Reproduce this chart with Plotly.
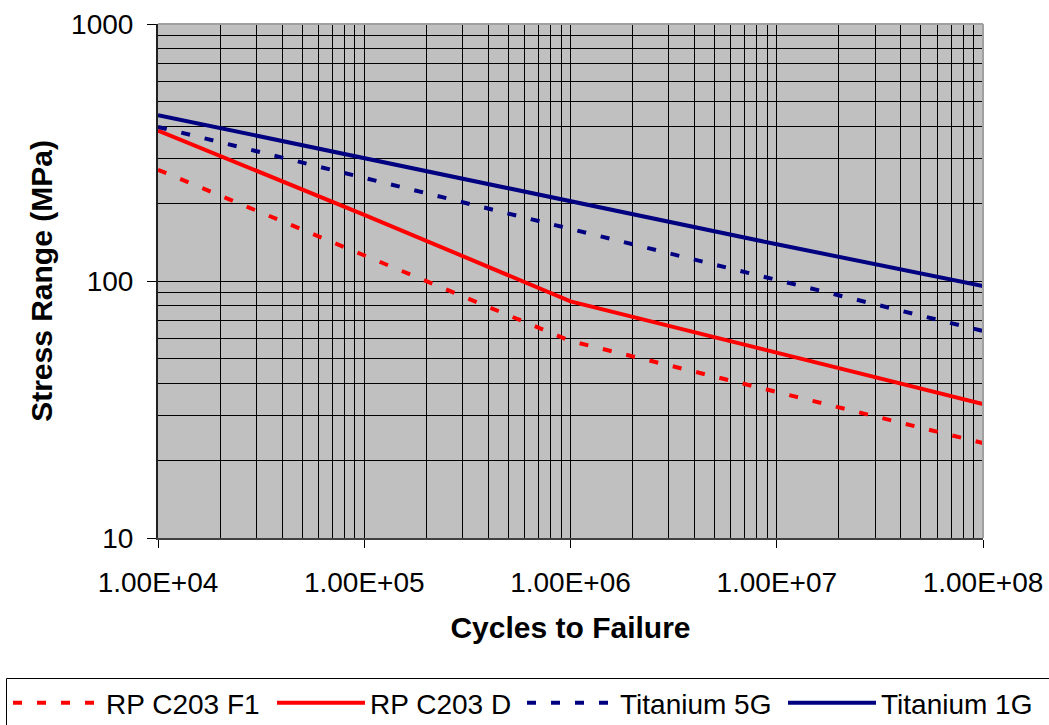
import plotly.graph_objects as go

# S-N design curves: stress range (MPa) against cycles to failure
cycles = [1e4, 1e5, 1e6, 1e7, 1e8]
rp_c203_f1 = [271, 126, 58.4, 37.0, 23.4]
rp_c203_d = [385, 181, 83.3, 52.6, 33.2]
titanium_5g = [398, 252, 160, 101, 63.9]
titanium_1g = [442, 300, 204, 139, 95.6]

x_tick_vals = [1e4, 1e5, 1e6, 1e7, 1e8]
x_tick_text = ["1.00E+04", "1.00E+05", "1.00E+06", "1.00E+07", "1.00E+08"]
y_tick_vals = [10, 100, 1000]
y_tick_text = ["10", "100", "1000"]

RED = "#FF0000"
NAVY = "#000080"
DOTTED = "9px,15px"
FONT = "Liberation Sans, Arial, sans-serif"

W, H = 1049, 725
M_L, M_R, M_T, M_B = 158, 66, 24, 187
plot_w = W - M_L - M_R
plot_h = H - M_T - M_B


def px_x(px):
    return (px - M_L) / plot_w


def px_y(py):
    return (H - M_B - py) / plot_h


# one legend per series so the key row spans the full width
series = [
    ("RP C203 F1", rp_c203_f1, RED, DOTTED, "legend", 8),
    ("RP C203 D", rp_c203_d, RED, "solid", "legend2", 272),
    ("Titanium 5G", titanium_5g, NAVY, DOTTED, "legend3", 522),
    ("Titanium 1G", titanium_1g, NAVY, "solid", "legend4", 783),
]

fig = go.Figure()
legend_layout = {}
for name, vals, color, dash, leg, left_px in series:
    fig.add_trace(go.Scatter(
        x=cycles, y=vals, name=name, mode="lines", legend=leg,
        line=dict(color=color, width=4, dash=dash),
    ))
    legend_layout[leg] = dict(
        orientation="h", xref="paper", yref="paper",
        x=px_x(left_px), y=px_y(703),
        xanchor="left", yanchor="middle",
        font=dict(size=28, color="black", family=FONT),
        borderwidth=0, bgcolor="rgba(0,0,0,0)",
        itemwidth=88,
    )

grid = dict(showgrid=True, gridcolor="black", gridwidth=1)

fig.update_xaxes(
    type="log", range=[4, 8],
    tickvals=x_tick_vals, ticktext=x_tick_text,
    ticks="outside", ticklen=8, tickcolor="black", tickwidth=1,
    ticklabelstandoff=10,
    tickfont=dict(size=28, color="black", family=FONT),
    showline=True, linecolor="#404040", linewidth=2,
    minor=dict(dtick="D1", showgrid=True, gridcolor="black", gridwidth=1, ticks=""),
    title=dict(text="<b>Cycles to Failure</b>", standoff=20,
               font=dict(size=30, color="black", family=FONT)),
    zeroline=False, **grid,
)
fig.update_yaxes(
    type="log", range=[1, 3],
    tickvals=y_tick_vals, ticktext=y_tick_text,
    ticks="outside", ticklen=9, tickcolor="black", tickwidth=1,
    ticklabelstandoff=8,
    tickfont=dict(size=28, color="black", family=FONT),
    showline=True, linecolor="#202020", linewidth=2,
    minor=dict(dtick="D1", showgrid=True, gridcolor="black", gridwidth=1, ticks=""),
    title=dict(text="<b>Stress Range (MPa)</b>", standoff=10,
               font=dict(size=30, color="black", family=FONT)),
    zeroline=False, **grid,
)

# light frame on the top and right of the plotting area
for x0, y0, x1, y1 in [(0, 1, 1, 1), (1, 0, 1, 1)]:
    fig.add_shape(type="line", xref="paper", yref="paper",
                  x0=x0, y0=y0, x1=x1, y1=y1,
                  line=dict(color="#A0A0A0", width=2), layer="above")

# frame around the key row
fig.add_shape(type="rect", xref="paper", yref="paper",
              x0=px_x(6.5), x1=px_x(W + 20), y0=px_y(678.5), y1=px_y(H + 20),
              line=dict(color="black", width=1), fillcolor="rgba(0,0,0,0)",
              layer="above")

fig.update_layout(
    width=W, height=H,
    margin=dict(l=M_L, r=M_R, t=M_T, b=M_B, autoexpand=False),
    paper_bgcolor="white", plot_bgcolor="#C0C0C0",
    font=dict(family=FONT, color="black"),
    showlegend=True,
    **legend_layout,
)

fig.write_html("out.html")
